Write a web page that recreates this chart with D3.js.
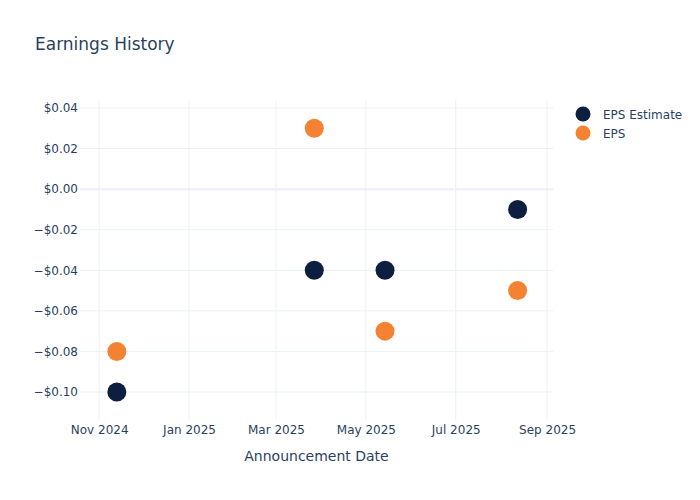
<!DOCTYPE html>
<html><head><meta charset="utf-8">
<script src="https://cdn.jsdelivr.net/npm/d3@7"></script>
<style>body{margin:0;background:#fff;font-family:"DejaVu Sans",Verdana,sans-serif;} text{font-family:"DejaVu Sans",Verdana,sans-serif;}</style>
</head><body>
<svg id="c" width="700" height="500"></svg>
<script>
const dates = ["2024-11-13","2025-03-27","2025-05-14","2025-08-12"];
const epsEstimate = [-0.10,-0.04,-0.04,-0.01];
const eps = [-0.08,0.03,-0.07,-0.05];
const yTicks = [0.04,0.02,0.00,-0.02,-0.04,-0.06,-0.08,-0.10];
const xTickDates = ["2024-11-01","2025-01-01","2025-03-01","2025-05-01","2025-07-01","2025-09-01"];
const seriesNames = ["EPS Estimate","EPS"];
const colors = ["#0c1f41","#f58233"];

const parse = d3.utcParse("%Y-%m-%d");
const svg = d3.select("#c");
const L=80,R=553,T=101,B=421;
const x = d3.scaleUtc().domain([parse("2024-10-19"), parse("2025-09-05")]).range([L,R]);
const y = d3.scaleLinear().domain([-0.1143,0.04345]).range([B,T]);
const txt = "#2a3f5f", grid = "#ebf0f8";

// grid
svg.append("g").selectAll("line").data(xTickDates).join("line")
  .attr("x1",d=>x(parse(d))).attr("x2",d=>x(parse(d))).attr("y1",T-1).attr("y2",B-1)
  .attr("stroke",grid).attr("stroke-width",1);
svg.append("g").selectAll("line").data(yTicks).join("line")
  .attr("x1",L).attr("x2",R).attr("y1",d=>y(d)).attr("y2",d=>y(d))
  .attr("stroke",grid).attr("stroke-width",d=>d===0?2:1);

// axes
const fmt = d => (d<0?"\u2212":"")+"$"+Math.abs(d).toFixed(2);
const yAxis = svg.append("g").attr("transform",`translate(${L},0)`)
  .call(d3.axisLeft(y).tickValues(yTicks).tickFormat(fmt).tickSize(0).tickPadding(2));
yAxis.select(".domain").remove();
yAxis.selectAll("text").attr("fill",txt).style("font-size","12px");

const xAxis = svg.append("g").attr("transform",`translate(0,${B})`)
  .call(d3.axisBottom(x).tickValues(xTickDates.map(parse)).tickFormat(d3.utcFormat("%b %Y")).tickSize(0).tickPadding(4));
xAxis.select(".domain").remove();
xAxis.selectAll("text").attr("fill",txt).style("font-size","12px");

svg.append("text").attr("x",(L+R)/2).attr("y",461).attr("text-anchor","middle")
  .attr("fill",txt).style("font-size","14px").text("Announcement Date");

svg.append("text").attr("x",35).attr("y",50).attr("fill",txt)
  .style("font-size","17px").text("Earnings History");

// points
[epsEstimate, eps].forEach((vals,i)=>{
  svg.append("g").selectAll("circle").data(vals).join("circle")
    .attr("cx",(d,j)=>x(parse(dates[j]))).attr("cy",d=>y(d)).attr("r",9.5)
    .attr("fill",colors[i]);
});

// legend
const lg = svg.append("g").selectAll("g").data(seriesNames).join("g")
  .attr("transform",(d,i)=>`translate(583,${114+i*19})`);
lg.append("circle").attr("r",7.5).attr("fill",(d,i)=>colors[i]);
lg.append("text").attr("x",20).attr("y",4.5).attr("fill",txt).style("font-size","12px").text(d=>d);
</script>
</body></html>
